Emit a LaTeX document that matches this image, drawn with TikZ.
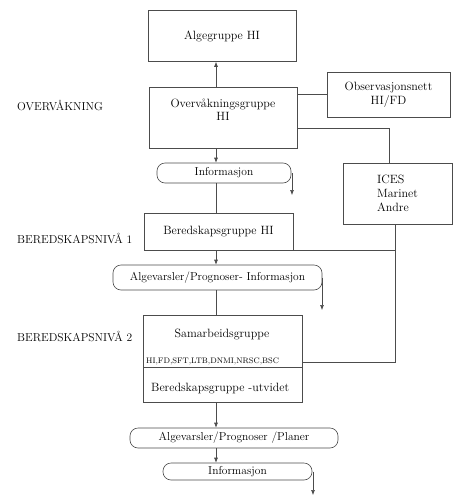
\documentclass[tikz,border=0pt]{standalone}
\usetikzlibrary{arrows.meta}
\begin{document}
\begin{tikzpicture}[x=1pt,y=-1pt,
  box/.style={draw=black!70, line width=0.6pt, fill=white, inner sep=0pt, font=\fontsize{12}{14}\selectfont, align=center},
  rbox/.style={draw=black!70, line width=0.6pt, fill=white, rounded corners=8pt, inner sep=0pt, font=\fontsize{11.5}{13}\selectfont},
  txt/.style={inner sep=0pt, font=\fontsize{12}{13}\selectfont, align=center},
  lvl/.style={inner sep=0pt, anchor=west, font=\fontsize{11.5}{13}\selectfont},
  conn/.style={draw=black!70, line width=0.6pt},
  arr/.style={conn, -{Latex[length=5pt,width=4pt]}}]
\useasboundingbox (0,0) rectangle (458,501);
\coordinate (spine) at (216,0);
\coordinate (c) at (389,128);
\coordinate (d) at (395,362);
\coordinate (e1) at (292,195);
\coordinate (e2) at (322,310);
\coordinate (e3) at (313,495);
% level labels
\node[lvl] (lov) at (17,106) {OVERVÅKNING};
\node[lvl] (lb1) at (17,238) {BEREDSKAPSNIVÅ 1};
\node[lvl] (lb2) at (17,336) {BEREDSKAPSNIVÅ 2};
% boxes
\node[box, minimum width=148, minimum height=51] (alg) at (222,36) {Algegruppe HI};
\node[box, minimum width=148, minimum height=61] (ov) at (223,117.5) {};
\node[txt] (ovt) at (223,110) {Overvåkningsgruppe\\HI};
\node[box, minimum width=123, minimum height=45] (obs) at (388.5,94.5) {Observasjonsnett\\HI/FD};
\node[box, minimum width=109, minimum height=61, align=left] (ices) at (397.5,193.5) {ICES\\Marinet\\Andre};
\node[rbox, minimum width=134, minimum height=20] (info1) at (224,173) {Informasjon};
\node[box, minimum width=149, minimum height=37] (ber1) at (218.5,231.5) {Beredskapsgruppe HI};
\node[rbox, minimum width=209, minimum height=25] (alg1) at (217.5,277.5) {Algevarsler/Prognoser- Informasjon};
\node[box, minimum width=159, minimum height=52] (samA) at (222.5,341) {};
\node[box, minimum width=159, minimum height=35] (samB) at (222.5,384.5) {};
\node[txt] (samt) at (222,335) {Samarbeidsgruppe};
\node[txt, anchor=west, font=\fontsize{8}{9}\selectfont] (sams) at (146,361) {HI,FD,SFT,LTB,DNMI,NRSC,BSC};
\node[txt, anchor=west] (berut) at (151,389) {Beredskapsgruppe -utvidet};
\node[rbox, minimum width=208, minimum height=20] (alg2) at (234,438) {Algevarsler/Prognoser /Planer};
\node[rbox, minimum width=149, minimum height=17] (info2) at (237.5,471.5) {Informasjon};
% spine connectors
\draw[arr] (ov.north -| spine) -- (alg.south -| spine);
\draw[arr] (ov.south -| spine) -- (info1.north -| spine);
\draw[conn] (info1.south -| spine) -- (ber1.north -| spine);
\draw[arr] (ber1.south -| spine) -- (alg1.north -| spine);
\draw[conn] (alg1.south -| spine) -- (samA.north -| spine);
\draw[arr] (samB.south -| spine) -- (alg2.north -| spine);
\draw[arr] (alg2.south -| spine) -- (info2.north -| spine);
% side connectors
\draw[conn] (obs.west) -- (obs.west -| ov.east);
\draw[conn] (ov.east |- c) -- (c) -- (ices.north -| c);
\draw[conn] (ices.south -| d) -- (d) -- (samA.east |- d);
\draw[conn] (ber1.south east) -- (ber1.south east -| d);
% side arrows
\draw[arr] (info1.east -| e1) -- (e1);
\draw[arr] (alg1.east -| e2) -- (e2);
\draw[arr] (info2.east -| e3) -- (e3);
\end{tikzpicture}
\end{document}
